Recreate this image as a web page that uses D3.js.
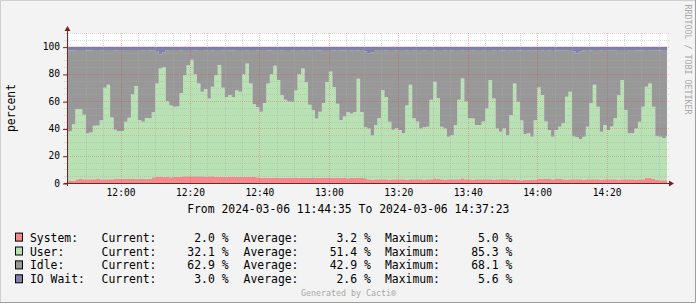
<!DOCTYPE html>
<html>
<head>
<meta charset="utf-8">
<script src="https://cdn.jsdelivr.net/npm/d3@7"></script>
<style>
  html, body { margin: 0; padding: 0; background: #ffffff; }
  svg { display: block; }
  text { font-family: "DejaVu Sans Mono", monospace; }
</style>
</head>
<body>
<div id="chart"></div>
<script>
// one sample per minute, first sample = 11:44 (interval 11:44-11:45)
var sampleStart = new Date(2024, 2, 6, 11, 44, 0);
var rangeStart = new Date(2024, 2, 6, 11, 44, 35),
    rangeEnd = new Date(2024, 2, 6, 14, 37, 23);

var seriesNames = ["System", "User", "Idle", "IO Wait"];
var seriesColors = ["#F5878E", "#B8E2B4", "#989898", "#8080A8"];

var systemPct = [
  1.5, 1.5, 1.6,
  2.8, 2.9, 2.8, 2.7, 2.8, 2.8, 2.9, 2.8, 2.7, 2.8, 2.8, 2.9,
  3.0, 3.1, 3.0, 2.9, 3.0, 3.1, 3.0, 3.0, 3.1, 3.0,
  4.2, 4.4, 4.4, 4.5, 4.4, 4.3, 4.4, 4.5, 4.4,
  5.0, 4.9, 5.0, 5.0, 4.9, 5.0, 4.8, 4.9, 5.0,
  4.6, 4.6, 4.5, 4.6, 4.7, 4.6, 4.5, 4.6, 4.6, 4.5, 4.6, 4.4, 4.3,
  3.9, 4.0, 3.8, 3.9, 4.1, 3.9, 3.8, 3.9, 4.0, 3.9, 3.7, 3.9, 4.0, 3.8, 3.9, 3.6,
  3.8, 3.9, 4.0, 3.7, 3.9, 3.8, 3.6, 3.9, 4.0, 3.5, 3.8, 3.9, 3.7, 3.6, 3.4,
  2.7, 2.6, 2.7, 2.8, 2.7, 2.7, 2.6, 2.7, 2.8, 2.7,
  2.7, 2.6, 2.7, 2.7, 2.8, 2.7, 2.6, 2.7, 2.7, 3.5,
  2.9, 2.7, 2.6, 2.7, 2.7, 2.8, 2.7, 3.5, 2.8, 2.7,
  2.6, 2.7, 2.7, 2.8, 2.7, 2.7, 2.6, 2.7, 2.7, 2.8,
  2.7, 2.6, 2.7,
  2.2, 2.1, 2.2, 2.3, 2.2, 2.2,
  2.9, 2.9, 3.0, 2.9, 2.8, 2.9, 2.9,
  2.7, 2.6, 2.7, 2.8, 2.7, 2.7, 2.6, 2.7, 2.7, 2.8,
  2.7, 2.6, 2.7, 2.7, 2.8, 2.7, 2.6, 2.7, 2.7, 2.8,
  2.7, 2.6, 2.7, 2.7,
  3.9, 3.8, 3.0,
  2.2, 2.0, 2.0, 2.0
];

var userPct = [
  34.5, 36.5, 41.5, 51.2, 51.2, 47.2, 33.7, 34.2, 39.2, 39.2,
  43.2, 67.2, 69.2, 45.2, 36.2, 35, 35, 42, 45, 62,
  68, 43, 42, 44.5, 44.5, 47.6, 68.6, 79.6, 80.6, 55.6,
  52.6, 51.6, 51.6, 61.6, 74, 81.5, 85.3, 75, 68, 62,
  64, 57, 65.5, 74.4, 81.9, 65.4, 58.4, 59.9, 58.4, 63.4,
  62.4, 75.4, 83.1, 68.4, 53.4, 51.4, 48.4, 54.6, 69.1, 76.1,
  81.9, 71.6, 60.6, 57.1, 55.7, 55.7, 64.1, 76.1, 79.9, 70.1,
  53.4, 49.7, 43.5, 48.4, 54.6, 70.4, 77.8, 66.6, 54.6, 42.3,
  44.7, 48.4, 47.1, 48.1, 72.8, 48.4, 37.4, 37.3, 32.3, 39.8,
  44.7, 65.3, 60.3, 42.3, 36.3, 37.3, 36.2, 33.7, 54.3, 69.3,
  44.7, 42.3, 37.3, 38.3, 38.6, 58.3, 70.8, 59.3, 38.6, 37.3,
  31.3, 32.3, 39.8, 58.3, 73.2, 56.9, 44.7, 44.7, 39.8, 39.8,
  42.3, 52, 72.8, 59.3, 37.3, 34.9, 37.3, 32.3, 47.2, 70.3,
  57.4, 43.8, 33.8, 34.2, 31.8, 43.8, 67.1, 61.6, 42.1, 36,
  31.1, 36, 38.4, 41.1, 60.7, 64.3, 31.3, 30.8, 29.3, 31.3,
  38.6, 55.8, 69.3, 53.3, 34.9, 39.8, 36.2, 38.6, 44.7, 61.8,
  72.8, 50.9, 33.7, 33.7, 37.4, 42.3, 53.3, 66.6, 69.1, 53,
  32, 32, 30.8, 32.1
];

var iowaitPct = [
  2.6, 2.8, 2.6, 2.5, 2.5, 2.4, 2.6, 2.6, 2.5, 2.5,
  2.6, 2.4, 2.5, 2.4, 2.6, 3.0, 3.1, 2.5, 2.4, 2.5,
  2.5, 2.4, 2.6, 2.5, 2.7, 2.6, 3.2, 5.6, 4.2, 2.6,
  2.5, 2.4, 2.5, 2.6, 2.5, 2.4, 2.5, 2.6, 2.4, 2.5,
  2.7, 2.5, 2.6, 2.4, 2.5, 2.6, 2.5, 2.7, 2.6, 2.5,
  2.4, 2.5, 2.6, 2.5, 2.4, 2.6, 2.5, 2.5, 2.7, 2.6,
  2.5, 2.4, 2.6, 2.5, 2.5, 2.6, 2.4, 2.5, 2.6, 2.5,
  2.6, 2.5, 2.7, 2.6, 2.5, 2.4, 2.5, 2.6, 2.5, 2.7,
  2.6, 2.5, 2.8, 3.0, 2.6, 2.5, 3.4, 5.2, 4.3, 2.7,
  2.5, 2.4, 2.6, 2.5, 2.5, 2.6, 2.4, 2.5, 2.6, 2.5,
  2.6, 2.5, 2.4, 2.6, 2.5, 2.5, 2.6, 2.4, 2.5, 2.6,
  2.5, 2.6, 2.5, 2.4, 2.6, 2.5, 2.5, 2.6, 2.4, 2.5,
  2.6, 2.5, 2.4, 2.6, 2.5, 2.7, 2.9, 3.0, 2.6, 2.5,
  2.6, 2.7, 2.5, 2.6, 3.0, 2.7, 2.5, 2.6, 2.4, 2.6,
  2.5, 2.6, 2.7, 2.9, 2.6, 2.5, 3.6, 4.8, 3.3, 2.6,
  2.5, 2.6, 2.5, 2.4, 2.6, 2.5, 2.6, 2.9, 2.6, 2.5,
  2.4, 2.5, 2.6, 2.5, 2.6, 2.8, 2.6, 2.5, 2.6, 2.7,
  2.8, 2.9, 3.0, 3.0
];

// legend numbers as printed
var legendCurrent = [2.0, 32.1, 62.9, 3.0];
var legendAverage = [3.2, 51.4, 42.9, 2.6];
var legendMaximum = [5.0, 85.3, 68.1, 5.6];

var yTicks = [0, 20, 40, 60, 80, 100];

function drawCpuGraph() {
    var width = 697,
        height = 304,
        left = 67, right = 667, top = 33, bottom = 183,
        fmt = d3.format(".1f");

    if (systemPct.length != userPct.length || userPct.length != iowaitPct.length) {
        throw new Error("series length mismatch " + systemPct.length + " " + userPct.length + " " + iowaitPct.length);
    }

    // idle is whatever is left of 100%
    var rows = userPct.map(function(u, i) {
        return {
            time: d3.timeMinute.offset(sampleStart, i),
            system: systemPct[i],
            user: u,
            idle: 100 - systemPct[i] - u - iowaitPct[i],
            iowait: iowaitPct[i]
        };
    });
    var last = rows[rows.length - 1];
    rows.push(Object.assign({}, last, { time: d3.timeMinute.offset(last.time, 1) }));

    var x = d3.scaleTime().domain([rangeStart, rangeEnd]).range([left, right]);
    var y = d3.scaleLinear().domain([0, 110]).range([bottom, top]);

    var svg = d3.select("#chart").append("svg")
        .attr("width", width)
        .attr("height", height);

    // canvas + frame
    svg.append("rect").attr("width", width - 1).attr("height", height - 1).attr("fill", "#F3F3F3");
    svg.append("path").attr("d", "M0.5,302V0.5H695").attr("fill", "none").attr("stroke", "#CFCFCF");
    svg.append("path").attr("d", "M0,302.5H695.5V0").attr("fill", "none").attr("stroke", "#9E9E9E");

    svg.append("rect")
        .attr("x", left).attr("y", top)
        .attr("width", right - left).attr("height", bottom - top)
        .attr("fill", "#ffffff");

    svg.append("clipPath").attr("id", "plotclip")
        .append("rect")
        .attr("x", left).attr("y", top)
        .attr("width", right - left).attr("height", bottom - top);

    var stack = d3.stack().keys(["system", "user", "idle", "iowait"]);
    var layers = stack(rows);

    var area = d3.area()
        .curve(d3.curveStepAfter)
        .x(function(d) { return x(d.data.time); })
        .y0(function(d) { return y(d[0]); })
        .y1(function(d) { return y(d[1]); });

    svg.append("g")
        .attr("clip-path", "url(#plotclip)")
        .selectAll("path")
        .data(layers)
        .join("path")
        .attr("fill", function(d, i) { return seriesColors[i]; })
        .attr("d", area);

    // grid on top of the areas
    var grid = svg.append("g").attr("shape-rendering", "crispEdges");
    var minorY = d3.range(5, 111, 5).filter(function(v) { return v % 20 != 0; });
    var minorX = d3.timeMinute.every(5).range(rangeStart, rangeEnd).filter(function(t) { return t.getMinutes() % 20 != 0; });
    var majorX = d3.timeMinute.every(20).range(rangeStart, rangeEnd);
    var minorColor = "rgba(170,170,170,0.45)",
        majorColor = "rgba(235,60,60,0.32)";

    grid.selectAll(".minor-y").data(minorY).join("line")
        .attr("x1", left - 3).attr("x2", right + 2)
        .attr("y1", function(d) { return Math.round(y(d)) + 0.5; })
        .attr("y2", function(d) { return Math.round(y(d)) + 0.5; })
        .attr("stroke", minorColor).attr("stroke-dasharray", "1,1");
    grid.selectAll(".minor-x").data(minorX).join("line")
        .attr("x1", function(d) { return Math.round(x(d)) + 0.5; })
        .attr("x2", function(d) { return Math.round(x(d)) + 0.5; })
        .attr("y1", top).attr("y2", bottom + 2)
        .attr("stroke", minorColor).attr("stroke-dasharray", "1,1");
    grid.selectAll(".major-y").data(yTicks.slice(1)).join("line")
        .attr("x1", left - 3).attr("x2", right + 2)
        .attr("y1", function(d) { return Math.round(y(d)) + 0.5; })
        .attr("y2", function(d) { return Math.round(y(d)) + 0.5; })
        .attr("stroke", majorColor).attr("stroke-dasharray", "1,1");
    grid.selectAll(".major-x").data(majorX).join("line")
        .attr("x1", function(d) { return Math.round(x(d)) + 0.5; })
        .attr("x2", function(d) { return Math.round(x(d)) + 0.5; })
        .attr("y1", top).attr("y2", bottom + 3)
        .attr("stroke", majorColor).attr("stroke-dasharray", "1,1");

    // axes labels
    var xAxis = svg.append("g")
        .attr("transform", "translate(0," + bottom + ")")
        .call(d3.axisBottom(x).tickValues(majorX).tickFormat(d3.timeFormat("%H:%M")).tickSize(0).tickPadding(6));
    var yAxis = svg.append("g")
        .attr("transform", "translate(" + left + ",0)")
        .call(d3.axisLeft(y).tickValues(yTicks).tickSize(0).tickPadding(7));
    [xAxis, yAxis].forEach(function(g) {
        g.select(".domain").remove();
        g.selectAll("text")
            .attr("fill", "#000")
            .style("font-family", "'DejaVu Sans Mono', monospace")
            .style("font-size", "9.6px");
    });
    yAxis.selectAll(".tick").append("line")
        .attr("x1", -4).attr("x2", 0).attr("y1", 0.5).attr("y2", 0.5)
        .attr("stroke", "#802020");

    // axis lines and arrows
    svg.append("line")
        .attr("x1", left + 0.5).attr("x2", left + 0.5)
        .attr("y1", bottom + 3).attr("y2", top - 3)
        .attr("stroke", "#802020");
    svg.append("line")
        .attr("x1", left - 3).attr("x2", right + 3)
        .attr("y1", bottom + 0.5).attr("y2", bottom + 0.5)
        .attr("stroke", "#802020");
    svg.append("path")
        .attr("d", "M64.5,31L70.5,31L67.5,26Z")
        .attr("fill", "#7F1F1F");
    svg.append("path")
        .attr("d", "M669,180.5L669,186.5L674,183.5Z")
        .attr("fill", "#7F1F1F");

    // vertical label
    svg.append("text")
        .attr("transform", "translate(15,108) rotate(-90)")
        .attr("text-anchor", "middle")
        .style("font-size", "11.4px")
        .text("percent");

    svg.append("text")
        .attr("transform", "translate(684.5,4.5) rotate(90)")
        .attr("fill", "#A8A8A8")
        .style("font-size", "8.3px")
        .text("RRDTOOL / TOBI OETIKER");

    svg.append("text")
        .attr("x", 348.3).attr("y", 213)
        .attr("text-anchor", "middle")
        .style("font-size", "11.4px")
        .text("From 2024-03-06 11:44:35 To 2024-03-06 14:37:23");

    // legend
    var legend = svg.append("g").style("font-size", "11.4px");
    var rowsG = legend.selectAll("g").data(seriesNames).join("g")
        .attr("transform", function(d, i) { return "translate(0," + (241.6 + i * 13.9) + ")"; });
    rowsG.append("rect")
        .attr("x", 15.5).attr("y", -8.5).attr("width", 7).attr("height", 8)
        .attr("fill", function(d, i) { return seriesColors[i]; })
        .attr("stroke", "#000");
    rowsG.append("text").attr("x", 30).text(function(d) { return d + ":"; });
    rowsG.append("text").attr("x", 101.6).text("Current:");
    rowsG.append("text").attr("x", 228.5).attr("text-anchor", "end")
        .text(function(d, i) { return fmt(legendCurrent[i]) + " %"; });
    rowsG.append("text").attr("x", 243.6).text("Average:");
    rowsG.append("text").attr("x", 370.8).attr("text-anchor", "end")
        .text(function(d, i) { return fmt(legendAverage[i]) + " %"; });
    rowsG.append("text").attr("x", 385).text("Maximum:");
    rowsG.append("text").attr("x", 512.3).attr("text-anchor", "end")
        .text(function(d, i) { return fmt(legendMaximum[i]) + " %"; });

    svg.append("text")
        .attr("x", 348.5).attr("y", 296)
        .attr("text-anchor", "middle")
        .attr("fill", "#A8A8A8")
        .style("font-size", "8.3px")
        .text("Generated by Cacti\u00AE");
}

drawCpuGraph();
</script>
</body>
</html>
